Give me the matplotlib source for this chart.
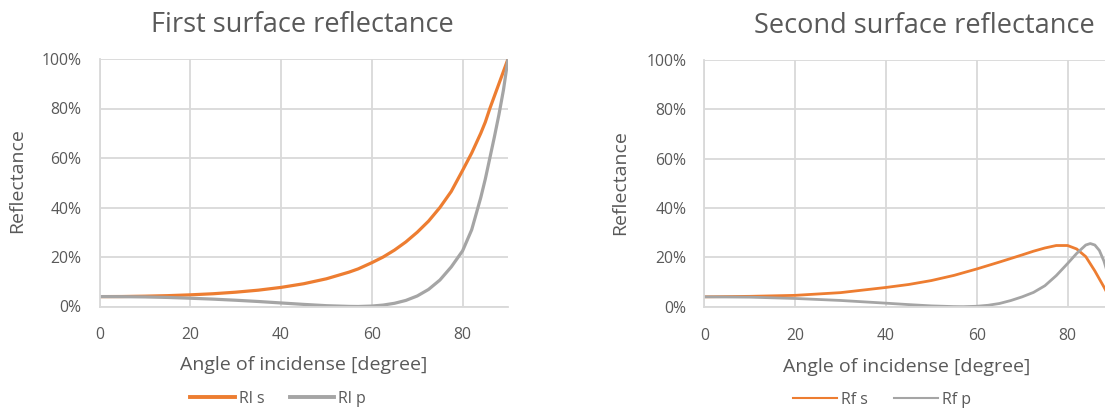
import matplotlib
matplotlib.use("Agg")
import matplotlib.pyplot as plt
from matplotlib.lines import Line2D
from matplotlib.ticker import FuncFormatter

# ---- data (reflectance in percent vs. angle of incidence in degrees) ----
first_angles = [0, 5, 10, 15, 20, 25, 30, 35, 40, 45, 50, 55, 57, 60, 62.5, 65, 67.5, 70,
                72.5, 75, 77.5, 80, 82, 83, 84, 85, 86, 87, 88, 89, 90]
first_rs = [4.00, 4.03, 4.17, 4.38, 4.71, 5.15, 5.78, 6.60, 7.72, 9.20, 11.2, 13.9, 15.2,
            17.7, 20.0, 22.8, 26.1, 30.0, 34.5, 40.0, 46.5, 55.0, 62.0, 66.0, 70.0, 74.5,
            80.0, 85.0, 90.0, 95.0, 100.0]
first_rp = [4.00, 3.97, 3.87, 3.66, 3.34, 2.98, 2.53, 2.02, 1.43, 0.85, 0.33, 0.04, 0.0,
            0.18, 0.58, 1.30, 2.46, 4.25, 6.9, 10.7, 16.0, 22.5, 31.0, 37.5, 44.0, 51.5,
            60.0, 68.5, 77.5, 87.5, 100.0]

second_angles_s = [0, 10, 20, 30, 40, 45, 50, 55, 60, 65, 70, 72.5, 75, 77.5, 80, 82, 84,
                   86, 88, 89, 90]
second_rs = [4.0, 4.2, 4.6, 5.7, 7.8, 9.0, 10.6, 12.7, 15.3, 18.1, 21.0, 22.5, 23.8, 24.8,
             24.8, 23.4, 20.3, 14.5, 8.0, 4.5, 0.0]
second_angles_p = [0, 10, 20, 30, 40, 45, 50, 55, 57, 60, 62.5, 65, 67.5, 70, 72.5, 75,
                   77.5, 80, 82, 84, 85, 86, 87, 88, 89, 90]
second_rp = [4.0, 3.87, 3.34, 2.53, 1.43, 0.85, 0.33, 0.04, 0.0, 0.18, 0.58, 1.3, 2.5, 4.0,
             5.8, 8.5, 12.6, 17.5, 21.6, 25.0, 25.6, 25.0, 22.8, 18.5, 12.5, 5.0]

x_ticks = [0, 20, 40, 60, 80]
y_ticks = [0, 20, 40, 60, 80, 100]

ORANGE = "#ED7D31"
GRAY = "#A5A5A5"
TEXT = "#595959"
GRID = "#D9D9D9"

plt.rcParams["font.family"] = ["Open Sans", "DejaVu Sans"]

fig = plt.figure(figsize=(11.05, 4.08), dpi=100)

W, H = 1105.0, 408.0


def make_axes(x0, x1, ytop, ybot):
    return fig.add_axes([x0 / W, 1 - ybot / H, (x1 - x0) / W, (ybot - ytop) / H])


def style(ax):
    ax.set_xlim(0, 90)
    ax.set_ylim(0, 100)
    ax.set_xticks(x_ticks)
    ax.set_yticks(y_ticks)
    ax.yaxis.set_major_formatter(FuncFormatter(lambda v, p: f"{int(v)}%"))
    ax.grid(True, color=GRID, linewidth=1.3)
    ax.set_axisbelow(True)
    for side in ("top", "right"):
        ax.spines[side].set_visible(False)
    for side in ("left", "bottom"):
        ax.spines[side].set_color(GRID)
        ax.spines[side].set_linewidth(1.3)
    ax.tick_params(length=0, colors=TEXT, labelsize=11.3, pad=13)
    ax.tick_params(axis="x", pad=15)


# first surface
ax1 = make_axes(99.5, 508.0, 59.0, 306.5)
style(ax1)
ax1.plot(first_angles, first_rs, color=ORANGE, lw=2.3, solid_capstyle="butt")
ax1.plot(first_angles, first_rp, color=GRAY, lw=2.3, solid_capstyle="butt")
fig.text(302 / W, 1 - 25 / H, "First surface reflectance", color=TEXT, fontsize=19.5,
         ha="center", va="center")
fig.text(304 / W, 1 - 365 / H, "Angle of incidense [degree]", color=TEXT, fontsize=14,
         ha="center", va="center")
fig.text(17 / W, 1 - 181 / H, "Reflectance", color=TEXT, fontsize=14,
         ha="center", va="center", rotation=90)

# second surface (plot area continues past the right edge)
ax2 = make_axes(704.3, 1113.0, 60.0, 306.7)
style(ax2)
ax2.plot(second_angles_s, second_rs, color=ORANGE, lw=2.0)
ax2.plot(second_angles_p, second_rp, color=GRAY, lw=2.0)
fig.text(924 / W, 1 - 26 / H, "Second surface reflectance", color=TEXT, fontsize=19.5,
         ha="center", va="center")
fig.text(907 / W, 1 - 367 / H, "Angle of incidense [degree]", color=TEXT, fontsize=14,
         ha="center", va="center")
fig.text(620 / W, 1 - 183 / H, "Reflectance", color=TEXT, fontsize=14,
         ha="center", va="center", rotation=90)

# legends
h1 = [Line2D([], [], color=ORANGE, lw=2.8), Line2D([], [], color=GRAY, lw=2.8)]
fig.legend(h1, ["Rl s", "Rl p"], loc="center", bbox_to_anchor=(278 / W, 1 - 399 / H),
           ncol=2, frameon=False, fontsize=11.5, labelcolor=TEXT, handlelength=2.8,
           handletextpad=0.25, columnspacing=1.6)
h2 = [Line2D([], [], color=ORANGE, lw=1.5), Line2D([], [], color=GRAY, lw=1.5)]
fig.legend(h2, ["Rf s", "Rf p"], loc="center", bbox_to_anchor=(882 / W, 1 - 400 / H),
           ncol=2, frameon=False, fontsize=11.5, labelcolor=TEXT, handlelength=2.8,
           handletextpad=0.25, columnspacing=1.6)

fig.savefig("out.png", dpi=100)
